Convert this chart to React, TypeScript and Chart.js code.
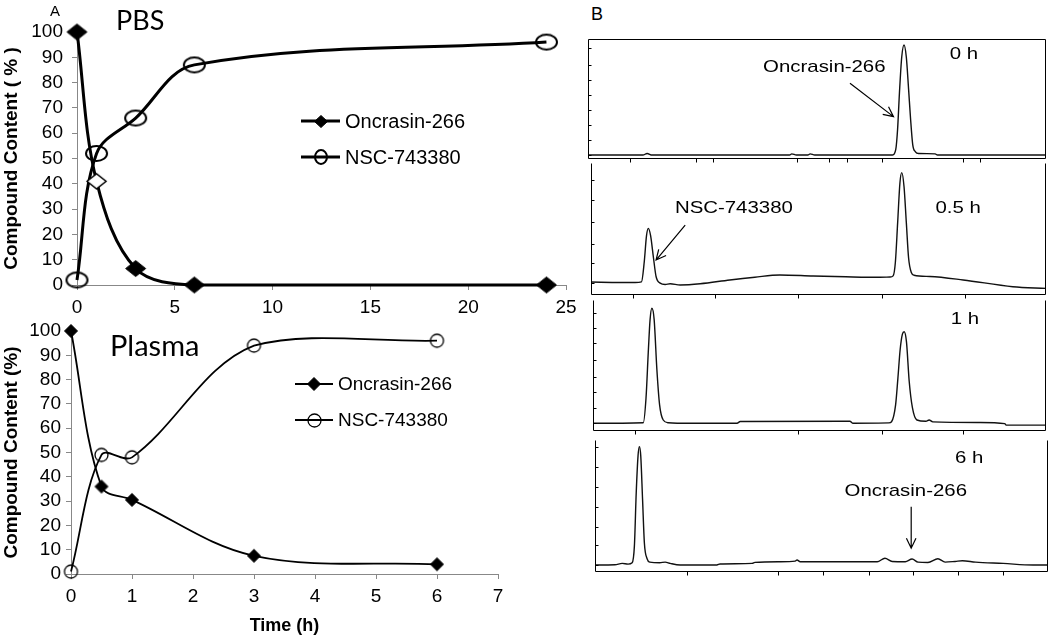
import React, { useEffect, useRef } from 'react';
import { Chart, registerables } from 'chart.js';

Chart.register(...registerables);

// ---------- Panel A data ----------
const seriesLabels = ['Oncrasin-266', 'NSC-743380'];
const pbsHours = [0, 1, 3, 6, 24];
const pbsOncrasin = [100, 41, 6.5, 0, 0];
const pbsNSC = [2, 52, 66, 87, 96];
const plasmaHours = [0, 0.5, 1, 3, 6];
const plasmaOncrasin = [100, 36, 30.5, 7.5, 4];
const plasmaNSC = [1, 49, 48, 94, 96];
const pbsXTicks = [0, 5, 10, 15, 20, 25];
const plasmaXTicks = [0, 1, 2, 3, 4, 5, 6, 7];
const contentTicks = [0, 10, 20, 30, 40, 50, 60, 70, 80, 90, 100];

// ---------- Panel B chromatogram traces (relative retention 0-100, relative signal 0-100) ----------
const trace0hX = [0, 12, 12.9, 14, 44, 44.5, 45.5, 48, 48.5, 49.5, 66.5, 67.2, 67.6, 68.0, 68.5, 69.0, 69.5, 70.0, 70.4, 70.9, 71.5, 72.2, 75.8, 76.3, 100];
const trace0hY = [3.3, 3.3, 4.6, 3.3, 3.3, 4.3, 3.3, 3.3, 4.3, 3.3, 3.3, 8, 25, 55, 85, 95, 85, 58, 35, 12, 6, 4.6, 4.3, 3.3, 3.3];

const trace05hX = [0, 6.4, 9.7, 11.1, 11.7, 12.2, 12.6, 13.1, 13.7, 14.3, 15.2, 16.3, 17.4, 19.6, 24, 30.5, 36, 41.5, 48.8, 56, 63.5, 65.7, 66.4, 66.9, 67.4, 67.9, 68.3, 68.8, 69.3, 69.8, 70.4, 71, 74.5, 81.8, 92.7, 100];
const trace05hY = [9.8, 9.5, 9.5, 10, 25, 45, 50.5, 45, 29, 14, 9, 8, 8.5, 7.6, 8.5, 11.4, 13.5, 15.2, 14.4, 13.8, 13.4, 13.6, 14.5, 25, 55, 85, 92.7, 82, 55, 28, 17, 15, 14, 11.4, 6.3, 5];

const trace1hX = [0, 11.1, 11.7, 12.2, 12.6, 13.0, 13.5, 14.1, 14.7, 15.5, 16.6, 21.4, 31.8, 32.5, 56.7, 57.4, 65.3, 65.9, 66.8, 67.3, 67.8, 68.3, 68.7, 69.2, 69.8, 70.5, 71.5, 73.5, 74.2, 75, 85.4, 90.9, 91.2, 100];
const trace1hY = [5.9, 6.3, 25, 60, 85, 93.7, 85, 47, 20, 8.4, 6.3, 5.9, 5.9, 7.2, 7.5, 5.9, 6.2, 7.1, 20, 40, 62, 74, 75.8, 68, 38, 18, 8.4, 7.4, 8.4, 7, 6.5, 5.6, 4.5, 4.5];

const trace6hX = [0, 4.4, 6, 7.3, 8.2, 8.7, 9.1, 9.5, 9.8, 10.1, 10.5, 10.9, 11.5, 12.1, 14.3, 15.5, 16.6, 18.8, 26.9, 27.6, 34.7, 35.3, 40.8, 44.2, 44.6, 45.3, 62.3, 64, 65.6, 68.5, 70, 71.3, 73.5, 75.7, 77.3, 79.5, 81.1, 84, 90.1, 96.7, 100];
const trace6hY = [5.3, 5.5, 6.5, 6, 7, 20, 60, 88, 95, 88, 55, 22, 10, 7.5, 7, 7.5, 6.5, 5.3, 5.3, 6.1, 6.5, 7.3, 7.8, 8.2, 9.1, 7.8, 7.8, 10.4, 8, 7.8, 9.8, 7.5, 7.2, 10, 7.5, 8, 8.5, 7.5, 6.5, 5.3, 5.3];

// axis tick positions of the chromatogram frames
const ticks0hX = [9.2, 23.6, 27.4, 45.6, 52.7, 56.5, 64.1, 81.9, 85.6];
const ticks05hX = [9.2, 27.3, 45.6, 63.9, 82.2];
const ticks1hX = [9.3, 45.3, 63.7, 81.7];
const ticks6hX = [20.2, 40.5, 50.4, 60.4, 70.3, 80.2, 90.1];
const ticks0hY = [3.3, 15.8, 28.3, 40.8, 53.3, 65.8, 78.3, 92.5];
const ticks05hY = [8.9, 24, 39, 55.5, 72, 87];
const ticks1hY = [5.9, 17.3, 30, 41.5, 54.2, 67, 78.4, 89.8];
const ticks6hY = [5.3, 20.5, 34.3, 49.5, 64.6, 79.8, 95];

const FONT = '"Liberation Sans", Arial, Helvetica, sans-serif';

function marker(kind: string, w: number, h: number, fill: string | null, stroke: string | null, lw: number) {
  const c = document.createElement('canvas');
  c.width = Math.ceil(w + lw + 2);
  c.height = Math.ceil(h + lw + 2);
  const ctx = c.getContext('2d')!;
  const cx = c.width / 2;
  const cy = c.height / 2;
  ctx.beginPath();
  if (kind === 'diamond') {
    ctx.moveTo(cx - w / 2, cy);
    ctx.lineTo(cx, cy - h / 2);
    ctx.lineTo(cx + w / 2, cy);
    ctx.lineTo(cx, cy + h / 2);
    ctx.closePath();
  } else {
    ctx.ellipse(cx, cy, w / 2, h / 2, 0, 0, Math.PI * 2);
  }
  if (fill) {
    ctx.fillStyle = fill;
    ctx.fill();
  }
  if (stroke) {
    ctx.strokeStyle = stroke;
    ctx.lineWidth = lw;
    ctx.stroke();
  }
  return c;
}

const inlineLegend = {
  id: 'inlineLegend',
  afterDatasetsDraw(chart: any, _args: any, opts: any) {
    const { ctx, chartArea } = chart;
    chart.data.datasets.forEach((ds: any, i: number) => {
      const x0 = chartArea.left + opts.dx;
      const y = chartArea.top + opts.dy + i * opts.rowGap;
      ctx.save();
      ctx.strokeStyle = '#000';
      ctx.lineWidth = opts.lineWidth;
      ctx.beginPath();
      ctx.moveTo(x0, y);
      ctx.lineTo(x0 + opts.lineLen, y);
      ctx.stroke();
      const img = opts.markers[i];
      ctx.drawImage(img, Math.round(x0 + opts.lineLen / 2 - img.width / 2), Math.round(y - img.height / 2));
      ctx.fillStyle = '#000';
      ctx.font = opts.font;
      ctx.textAlign = 'left';
      ctx.textBaseline = 'middle';
      ctx.fillText(ds.label, x0 + opts.lineLen + opts.textGap, y + 1);
      ctx.restore();
    });
  },
};

function kineticsConfig(p: any) {
  const tickFont = { family: FONT, size: 19 };
  return {
    type: 'line',
    data: {
      datasets: [
        {
          label: seriesLabels[0],
          data: p.hours.map((t: number, i: number) => ({ x: t, y: p.onc[i] })),
          borderColor: '#000',
          borderWidth: p.lineWidth,
          pointStyle: p.oncMarkers,
          pointRadius: 6,
          tension: p.tension,
          fill: false,
          clip: false,
        },
        {
          label: seriesLabels[1],
          data: p.hours.map((t: number, i: number) => ({ x: t, y: p.nsc[i] })),
          borderColor: '#000',
          borderWidth: p.lineWidth,
          pointStyle: p.nscMarker,
          pointRadius: 6,
          tension: p.tension,
          fill: false,
          clip: false,
        },
      ],
    },
    options: {
      responsive: false,
      animation: false,
      devicePixelRatio: 1,
      layout: { padding: p.padding },
      plugins: {
        legend: { display: false },
        tooltip: { enabled: false },
        inlineLegend: p.legend,
      },
      scales: {
        x: {
          type: 'linear',
          min: 0,
          max: p.xTicks[p.xTicks.length - 1],
          afterBuildTicks: (s: any) => {
            s.ticks = p.xTicks.map((v: number) => ({ value: v }));
          },
          ticks: { font: tickFont, color: '#000', padding: p.xTickPad, maxRotation: 0, autoSkip: false },
          grid: { drawOnChartArea: false, drawTicks: true, tickLength: 5, color: '#888' },
          border: { color: '#888', width: 1 },
          title: p.xTitle
            ? { display: true, text: p.xTitle, color: '#000', font: { family: FONT, size: 18, weight: 'bold' }, padding: { top: 0, bottom: 0 } }
            : { display: false },
          afterFit: (s: any) => {
            s.height = p.xHeight;
            s.paddingLeft = 0;
            s.paddingRight = 0;
          },
        },
        y: {
          min: 0,
          max: 100,
          afterBuildTicks: (s: any) => {
            s.ticks = contentTicks.map((v) => ({ value: v }));
          },
          ticks: { font: tickFont, color: '#000', padding: p.yTickPad, autoSkip: false },
          grid: { drawOnChartArea: false, drawTicks: true, tickLength: 5, color: '#888' },
          border: { color: '#888', width: 1 },
          title: { display: true, text: p.yTitle, color: '#000', font: { family: FONT, size: 19, weight: 'bold' }, padding: { top: 0, bottom: 0 } },
          afterFit: (s: any) => {
            s.width = p.yWidth;
            s.paddingTop = 0;
            s.paddingBottom = 0;
          },
        },
      },
    },
    plugins: [inlineLegend],
  };
}

function buildPBS() {
  const dia = marker('diamond', 20, 16, '#000', '#000', 1);
  const hollow = marker('diamond', 19, 15, '#fff', '#000', 1.5);
  const ell = marker('ellipse', 21, 15, null, '#000', 2);
  return kineticsConfig({
    hours: pbsHours,
    onc: pbsOncrasin,
    nsc: pbsNSC,
    oncMarkers: [dia, hollow, dia, dia, dia],
    nscMarker: ell,
    lineWidth: 3,
    tension: 0.35,
    xTicks: pbsXTicks,
    xTickPad: 6,
    yTickPad: 9,
    padding: { top: 32, right: 24, left: 0, bottom: 0 },
    yWidth: 77,
    xHeight: 37,
    yTitle: 'Compound Content ( % )',
    xTitle: null,
    legend: {
      dx: 224,
      dy: 89,
      rowGap: 36,
      lineLen: 39,
      textGap: 5,
      lineWidth: 3,
      font: `20px ${FONT}`,
      markers: [marker('diamond', 13, 12, '#000', '#000', 1), marker('ellipse', 12, 14, null, '#000', 2)],
    },
  });
}

function buildPlasma() {
  const dia = marker('diamond', 13, 13, '#000', '#000', 1);
  const circ = marker('ellipse', 13, 13, null, '#000', 1.3);
  return kineticsConfig({
    hours: plasmaHours,
    onc: plasmaOncrasin,
    nsc: plasmaNSC,
    oncMarkers: dia,
    nscMarker: circ,
    lineWidth: 1.8,
    tension: 0.35,
    xTicks: plasmaXTicks,
    xTickPad: 6,
    yTickPad: 5,
    padding: { top: 15, right: 92, left: 0, bottom: 0 },
    yWidth: 71,
    xHeight: 63,
    yTitle: 'Compound Content (%)',
    xTitle: 'Time (h)',
    legend: {
      dx: 224,
      dy: 53,
      rowGap: 36,
      lineLen: 38,
      textGap: 5,
      lineWidth: 2.2,
      font: `19px ${FONT}`,
      markers: [dia, circ],
    },
  });
}

const chromFrame = {
  id: 'chromFrame',
  afterDraw(chart: any, _args: any, opts: any) {
    const { ctx, chartArea: a, scales } = chart;
    ctx.save();
    ctx.strokeStyle = '#000';
    ctx.lineWidth = 1;
    ctx.beginPath();
    const L = Math.round(a.left) + 0.5;
    const R = Math.round(a.right) - 0.5;
    const T = Math.round(a.top) + 0.5;
    const B = Math.round(a.bottom) - 0.5;
    ctx.moveTo(L, T);
    ctx.lineTo(L, B);
    ctx.lineTo(R, B);
    ctx.lineTo(R, T);
    if (opts.topBorder) {
      ctx.lineTo(L, T);
    }
    opts.xTicks.forEach((v: number) => {
      const px = Math.round(scales.x.getPixelForValue(v)) + 0.5;
      ctx.moveTo(px, B);
      ctx.lineTo(px, B + 4);
    });
    opts.yTicks.forEach((v: number) => {
      const py = Math.round(scales.y.getPixelForValue(v)) + 0.5;
      ctx.moveTo(L, py);
      ctx.lineTo(L + 3, py);
    });
    ctx.stroke();
    ctx.restore();
  },
};

const chromNotes = {
  id: 'chromNotes',
  afterDraw(chart: any, _args: any, opts: any) {
    const { ctx, scales } = chart;
    ctx.save();
    ctx.fillStyle = '#000';
    ctx.strokeStyle = '#000';
    ctx.font = `17px ${FONT}`;
    ctx.textAlign = 'center';
    ctx.textBaseline = 'middle';
    (opts.texts || []).forEach((t: any) => {
      const px = scales.x.getPixelForValue(t.x);
      const py = scales.y.getPixelForValue(t.y);
      ctx.save();
      ctx.translate(px, py);
      ctx.scale(1.2, 1);
      ctx.fillText(t.text, 0, 0);
      ctx.restore();
    });
    ctx.lineWidth = 1.2;
    (opts.arrows || []).forEach((ar: any) => {
      const x1 = scales.x.getPixelForValue(ar.x1);
      const y1 = scales.y.getPixelForValue(ar.y1);
      const x2 = scales.x.getPixelForValue(ar.x2);
      const y2 = scales.y.getPixelForValue(ar.y2);
      const ang = Math.atan2(y2 - y1, x2 - x1);
      const hl = 11;
      ctx.beginPath();
      ctx.moveTo(x1, y1);
      ctx.lineTo(x2, y2);
      ctx.moveTo(x2 - hl * Math.cos(ang - 0.45), y2 - hl * Math.sin(ang - 0.45));
      ctx.lineTo(x2, y2);
      ctx.lineTo(x2 - hl * Math.cos(ang + 0.45), y2 - hl * Math.sin(ang + 0.45));
      ctx.stroke();
    });
    ctx.restore();
  },
};

function chromConfig(xs: number[], ys: number[], xTicks: number[], yTicks: number[], notes: any, topBorder: boolean) {
  return () => ({
    type: 'line',
    data: {
      datasets: [
        {
          data: xs.map((x, i) => ({ x, y: ys[i] })),
          borderColor: '#111',
          borderWidth: 1.4,
          pointRadius: 0,
          cubicInterpolationMode: 'monotone',
          fill: false,
        },
      ],
    },
    options: {
      responsive: false,
      animation: false,
      devicePixelRatio: 1,
      layout: { padding: { left: 4, right: 4, top: 4, bottom: 8 } },
      plugins: {
        legend: { display: false },
        tooltip: { enabled: false },
        chromFrame: { xTicks, yTicks, topBorder },
        chromNotes: notes,
      },
      scales: {
        x: { type: 'linear', min: 0, max: 100, display: false },
        y: { min: 0, max: 100, display: false },
      },
    },
    plugins: [chromFrame, chromNotes],
  });
}

const chromBoxes = [
  {
    key: '0h', left: 588, right: 1046, top: 39, bottom: 159,
    build: chromConfig(trace0hX, trace0hY, ticks0hX, ticks0hY, {
      texts: [{ text: 'Oncrasin-266', x: 51.6, y: 76 }, { text: '0 h', x: 82.1, y: 87.5 }],
      arrows: [{ x1: 57.2, y1: 63.1, x2: 66.7, y2: 35.3 }],
    }, true),
  },
  {
    key: '05h', left: 591, right: 1046, top: 163, bottom: 295,
    build: chromConfig(trace05hX, trace05hY, ticks05hX, ticks05hY, {
      texts: [{ text: 'NSC-743380', x: 31.4, y: 65.7 }, { text: '0.5 h', x: 80.7, y: 65.7 }],
      arrows: [{ x1: 20.7, y1: 53, x2: 14.3, y2: 26.5 }],
    }, false),
  },
  {
    key: '1h', left: 593, right: 1046, top: 300, bottom: 431,
    build: chromConfig(trace1hX, trace1hY, ticks1hX, ticks1hY, {
      texts: [{ text: '1 h', x: 82.1, y: 85.3 }],
      arrows: [],
    }, false),
  },
  {
    key: '6h', left: 595, right: 1048, top: 440, bottom: 572,
    build: chromConfig(trace6hX, trace6hY, ticks6hX, ticks6hY, {
      texts: [{ text: '6 h', x: 82.6, y: 86.1 }, { text: 'Oncrasin-266', x: 68.6, y: 60.8 }],
      arrows: [{ x1: 69.8, y1: 49.5, x2: 69.8, y2: 18 }],
    }, false),
  },
];

function ChartCanvas({ left, top, width, height, build }: any) {
  const ref = useRef<HTMLCanvasElement>(null);
  useEffect(() => {
    const chart = new Chart(ref.current as HTMLCanvasElement, build() as any);
    return () => chart.destroy();
  }, []);
  return (
    <canvas
      ref={ref}
      width={width}
      height={height}
      style={{ position: 'absolute', left, top, width, height }}
    />
  );
}

const textStyle = (left: number, top: number, size: number, family: string): React.CSSProperties => ({
  position: 'absolute',
  left,
  top,
  fontSize: size,
  lineHeight: `${size}px`,
  fontFamily: family,
  color: '#000',
  whiteSpace: 'nowrap',
});

export default function App() {
  return (
    <div style={{ position: 'fixed', left: 0, top: 0, width: 1050, height: 637, background: '#fff', overflow: 'hidden' }}>
      <ChartCanvas left={0} top={0} width={590} height={322} build={buildPBS} />
      <ChartCanvas left={0} top={316} width={590} height={321} build={buildPlasma} />
      {chromBoxes.map((b) => (
        <ChartCanvas
          key={b.key}
          left={b.left - 4}
          top={b.top - 4}
          width={b.right - b.left + 8}
          height={b.bottom - b.top + 12}
          build={b.build}
        />
      ))}
      <div style={textStyle(50, 3, 15, FONT)}>A</div>
      <div style={textStyle(591, 5, 18, FONT)}>B</div>
      <div style={textStyle(116, 6, 27, 'Lato, "Open Sans", sans-serif')}>PBS</div>
      <div style={textStyle(110, 330, 29, 'Lato, "Open Sans", sans-serif')}>Plasma</div>
    </div>
  );
}
